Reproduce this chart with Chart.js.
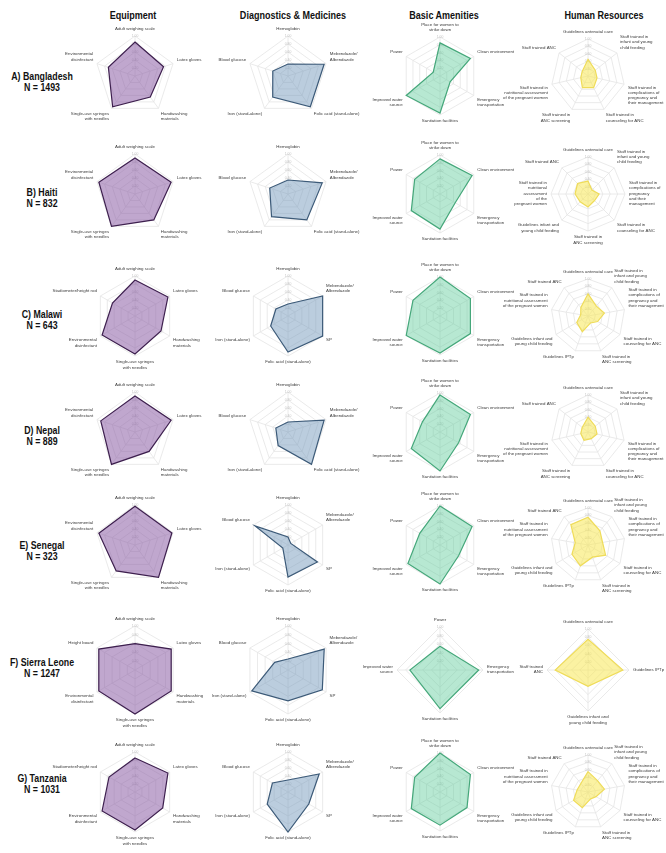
<!DOCTYPE html>
<html><head><meta charset="utf-8">
<script src="https://cdn.jsdelivr.net/npm/chart.js@4.4.1/dist/chart.umd.min.js"></script>
<style>
body{margin:0;background:#fff;}
#wrap{position:relative;width:666px;height:853px;overflow:hidden;font-family:"Liberation Sans",Arial,sans-serif;background:#fff;}
.title{position:absolute;top:9px;font-weight:bold;font-size:11px;color:#111;transform:translateX(-50%) scaleX(0.82);white-space:nowrap;}
.rowlab{position:absolute;font-weight:bold;font-size:11px;color:#111;text-align:center;transform:translate(-50%,-50%) scaleX(0.8);line-height:11px;white-space:nowrap;}
canvas{position:absolute;}
</style></head><body><div id="wrap"></div>
<script>
// ---- text ----
const domains = ["Equipment", "Diagnostics & Medicines", "Basic Amenities", "Human Resources"];
const countries = ["A) Bangladesh", "B) Haiti", "C) Malawi", "D) Nepal", "E) Senegal", "F) Sierra Leone", "G) Tanzania"];
const sampleSizes = [1493, 832, 643, 889, 323, 1247, 1031];
const tickValues = [0.2, 0.4, 0.6, 0.8, 1.0];

// ---- axis labels ----
const eqLabels5 = ["Adult weighing scale", "Latex gloves", ["Handwashing", "materials"], ["Single-use syringes", "with needles"], ["Environmental", "disinfectant"]];
const eqLabelsStadio = ["Adult weighing scale", "Latex gloves", ["Handwashing", "materials"], ["Single-use syringes", "with needles"], ["Environmental", "disinfectant"], "Stadiometer/height rod"];
const eqLabelsHeight = ["Adult weighing scale", "Latex gloves", ["Handwashing", "materials"], ["Single-use syringes", "with needles"], ["Environmental", "disinfectant"], "Height board"];

const dxLabels5 = ["Hemoglobin", ["Mebendazole/", "Albendazole"], "Folic acid (stand-alone)", "Iron (stand-alone)", "Blood glucose"];
const dxLabels6 = ["Hemoglobin", ["Mebendazole/", "Albendazole"], "SP", "Folic acid (stand-alone)", "Iron (stand-alone)", "Blood glucose"];

const baLabels6 = [["Place for women to", "strike down"], "Clean environment", ["Emergency", "transportation"], "Sanitation facilities", ["Improved water", "source"], "Power"];
const baLabels4 = ["Power", ["Emergency", "transportation"], "Sanitation facilities", ["Improved water", "source"]];

const hrLabels7 = ["Guidelines antenatal care", ["Staff trained in", "infant and young", "child feeding"], ["Staff trained in", "complications of", "pregnancy and", "their management"], ["Staff trained in", "counseling for ANC"], ["Staff trained in", "ANC screening"], ["Staff trained in", "nutritional assessment", "of the pregnant women"], "Staff trained ANC"];
const hrLabels8 = ["Guidelines antenatal care", ["Staff trained in", "infant and young", "child feeding"], ["Staff trained in", "complications of", "pregnancy", "and their", "management"], ["Staff trained in", "counseling for ANC"], ["Staff trained in", "ANC screening"], ["Guidelines infant and", "young child feeding"], ["Staff trained in", "nutritional", "assessment", "of the", "pregnant women"], "Staff trained ANC"];
const hrLabels9 = ["Guidelines antenatal care", ["Staff trained in", "infant and young", "child feeding"], ["Staff trained in", "complications of", "pregnancy and", "their management"], ["Staff trained in", "counseling for ANC"], ["Staff trained in", "ANC screening"], "Guidelines IPTp", ["Guidelines infant and", "young child feeding"], ["Staff trained in", "nutritional assessment", "of the pregnant women"], "Staff trained ANC"];
const hrLabels4 = ["Guidelines antenatal care", "Guidelines IPTp", ["Guidelines infant and", "young child feeding"], ["Staff trained", "ANC"]];

// ---- values (share of facilities), per country ----
const equipmentValues = [
  [0.85, 0.75, 0.65, 0.95, 0.70],
  [0.90, 0.95, 0.80, 1.00, 0.95],
  [0.90, 0.95, 0.75, 0.95, 0.95, 0.65],
  [0.90, 0.95, 0.60, 1.00, 0.90],
  [0.97, 0.97, 1.00, 0.80, 0.95],
  [0.60, 0.95, 0.95, 1.00, 0.95, 0.95],
  [0.85, 0.95, 0.80, 0.95, 0.95, 0.75]
];
const diagnosticsValues = [
  [0.30, 0.95, 0.95, 0.65, 0.40],
  [0.35, 0.90, 0.80, 0.70, 0.48],
  [0.30, 1.00, 1.00, 0.90, 0.50, 0.35],
  [0.25, 0.95, 1.00, 0.42, 0.32],
  [0.20, 0.08, 0.85, 0.80, 0.15, 0.95],
  [0.25, 0.95, 0.90, 0.70, 0.95, 0.35],
  [0.30, 0.90, 0.60, 1.00, 0.60, 0.45]
];
const amenitiesValues = [
  [0.85, 0.90, 0.30, 0.95, 1.00, 0.20],
  [0.90, 0.95, 0.45, 0.90, 0.85, 0.75],
  [1.00, 0.90, 0.90, 0.95, 1.00, 0.80],
  [0.95, 0.90, 0.55, 1.00, 0.85, 0.52],
  [1.00, 0.95, 0.55, 1.00, 0.95, 0.60],
  [0.55, 0.90, 0.90, 0.70],
  [1.00, 0.90, 0.80, 0.85, 0.85, 0.75]
];
const hrValues = [
  [0.45, 0.25, 0.25, 0.35, 0.35, 0.20, 0.20],
  [0.35, 0.15, 0.30, 0.25, 0.35, 0.30, 0.35, 0.40],
  [0.60, 0.35, 0.45, 0.30, 0.20, 0.45, 0.35, 0.20, 0.30],
  [0.40, 0.25, 0.25, 0.20, 0.25, 0.20, 0.20],
  [0.75, 0.50, 0.40, 0.55, 0.35, 0.60, 0.50, 0.35, 0.72],
  [0.75, 0.85, 0.40, 0.80],
  [0.55, 0.40, 0.45, 0.25, 0.20, 0.45, 0.45, 0.30, 0.30]
];

const equipmentAxes = [eqLabels5, eqLabels5, eqLabelsStadio, eqLabels5, eqLabels5, eqLabelsHeight, eqLabelsStadio];
const diagnosticsAxes = [dxLabels5, dxLabels5, dxLabels6, dxLabels5, dxLabels6, dxLabels6, dxLabels6];
const amenitiesAxes = [baLabels6, baLabels6, baLabels6, baLabels6, baLabels6, baLabels4, baLabels6];
const hrAxes = [hrLabels7, hrLabels8, hrLabels9, hrLabels7, hrLabels9, hrLabels4, hrLabels9];

// ---- styling / layout ----
const fills = ["rgba(140,95,165,0.55)", "rgba(120,155,190,0.5)", "rgba(95,205,155,0.45)", "rgba(248,232,85,0.55)"];
const lines = ["#3d1f4e", "#3c5a78", "#45a77a", "#efdc5a"];
const colX = [135, 288, 440, 588];
const titleX = [133, 293, 444, 604];
const colR = [40, 40, 39, 37];
const rowY = [76, 194, 316, 432, 545, 670, 792];
const rowLabelY = [82, 198, 320, 436, 551, 668, 784];
const rowExtra = [0, 0, 0, 0, 0, 4, 0];
const cellW = 200, cellH = 126;
const LABEL_FONT = 4.4, LABEL_PAD = 4, TICK_FONT = 3.4;

const wrap = document.getElementById('wrap');
domains.forEach((d, i) => {
  const t = document.createElement('div');
  t.className = 'title'; t.textContent = d; t.style.left = titleX[i] + 'px';
  wrap.appendChild(t);
});
countries.forEach((c, r) => {
  const l = document.createElement('div');
  l.className = 'rowlab'; l.innerHTML = c + '<br>N = ' + sampleSizes[r];
  l.style.left = '42px'; l.style.top = rowLabelY[r] + 'px';
  wrap.appendChild(l);
});

// draws the axis (point) labels around the radial scale, positioned from the scale itself
const axisLabelPlugin = {
  id: 'axisLabels',
  afterDraw(chart) {
    const s = chart.scales.r, ctx = chart.ctx;
    const labels = chart.data.labels;
    const lh = LABEL_FONT * 1.2;
    ctx.save();
    ctx.font = LABEL_FONT + 'px "Liberation Sans", Arial, sans-serif';
    ctx.fillStyle = '#3a3a3a';
    ctx.textBaseline = 'top';
    labels.forEach((lab, i) => {
      const p = s.getPointPosition(i, s.drawingArea + LABEL_PAD);
      const deg = (s.getIndexAngle(i) * 180 / Math.PI + 360) % 360;
      const ls = Array.isArray(lab) ? lab : [lab];
      const h = ls.length * lh;
      let align = 'center';
      if (Math.abs(deg - 0) > 1 && Math.abs(deg - 180) > 1 && Math.abs(deg - 360) > 1) align = deg < 180 ? 'left' : 'right';
      let y = p.y;
      if (Math.abs(deg - 90) <= 1 || Math.abs(deg - 270) <= 1) y -= h / 2;
      else if (deg > 270 || deg < 90) y -= h;
      ctx.textAlign = align;
      ls.forEach((t, k) => ctx.fillText(t, p.x, y + k * lh));
    });
    ctx.restore();
  }
};

function radar(col, row, labels, values) {
  const R = colR[col] + rowExtra[row];
  const cv = document.createElement('canvas');
  cv.width = cellW; cv.height = cellH;
  cv.style.left = (colX[col] - cellW / 2) + 'px';
  cv.style.top = (rowY[row] - cellH / 2) + 'px';
  wrap.appendChild(cv);
  const area = 2 * R + TICK_FONT;
  const px = (cellW - area) / 2, py = (cellH - area) / 2;
  new Chart(cv, {
    type: 'radar',
    data: { labels: labels, datasets: [{ data: values, backgroundColor: fills[col], borderColor: lines[col], borderWidth: 1.2, pointRadius: 0, fill: true }] },
    options: {
      responsive: false, animation: false, devicePixelRatio: 1,
      plugins: { legend: { display: false }, tooltip: { enabled: false } },
      layout: { padding: { left: px, right: px, top: py, bottom: py } },
      scales: { r: {
        min: 0, max: 1, beginAtZero: true,
        afterBuildTicks: s => { s.ticks = [{ value: 0 }].concat(tickValues.map(v => ({ value: v }))); },
        ticks: { font: { size: TICK_FONT, family: 'Liberation Sans' }, color: '#c4c4c4', showLabelBackdrop: false, backdropPadding: 0, callback: v => v.toFixed(2) },
        grid: { color: '#e4e4e4', lineWidth: 0.8 },
        angleLines: { color: '#e4e4e4', lineWidth: 0.8 },
        pointLabels: { display: false }
      } }
    },
    plugins: [axisLabelPlugin]
  });
}

for (let r = 0; r < 7; r++) {
  radar(0, r, equipmentAxes[r], equipmentValues[r]);
  radar(1, r, diagnosticsAxes[r], diagnosticsValues[r]);
  radar(2, r, amenitiesAxes[r], amenitiesValues[r]);
  radar(3, r, hrAxes[r], hrValues[r]);
}
</script></body></html>
